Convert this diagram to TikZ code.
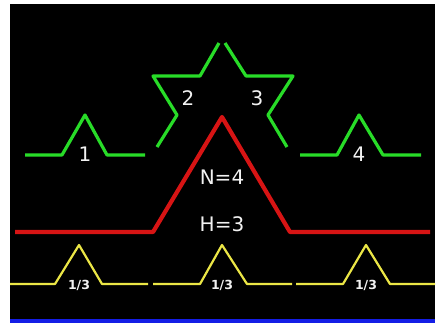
\documentclass[tikz,border=0pt]{standalone}
\usepackage{fontspec}
\setmainfont{DejaVu Sans}

\definecolor{kochgreen}{RGB}{40,220,40}
\definecolor{kochred}{RGB}{215,20,20}
\definecolor{kochyellow}{RGB}{235,230,70}
\definecolor{kochblue}{RGB}{20,30,230}

\begin{document}
\begin{tikzpicture}[x=1pt,y=-1pt,line join=round,
    green curve/.style={draw=kochgreen,line width=3.2pt},
    red curve/.style={draw=kochred,line width=4.2pt},
    yellow curve/.style={draw=kochyellow,line width=2.2pt},
    big label/.style={text=white!90!gray,font=\fontsize{20}{20}\selectfont},
    small label/.style={text=white!90!gray,font=\bfseries\fontsize{12.5}{12.5}\selectfont}]
  \useasboundingbox (0,0) rectangle (441,325);

  % Screen background and blue bar.
  \fill[black] (10,4) rectangle (435,319);
  \fill[kochblue] (10,319) rectangle (435,323);

  % Generator of height 1, scaled by three.
  \draw[red curve] (15,232) -- (153,232) -- (222,117) -- (290,232) -- (430,232);

  % Four copies of the generator at one third scale.
  \draw[green curve] (25,155) -- (62,155) -- (85,115) -- (107,155) -- (145,155);
  \draw[green curve] (157,147) -- (177,115) -- (153,76) -- (200,76) -- (219,43);
  \draw[green curve] (225,43) -- (246,76) -- (293,76) -- (268,115) -- (287,147);
  \draw[green curve] (300,155) -- (337,155) -- (359,115) -- (383,155) -- (421,155);

  % The three pieces of the unit generator.
  \draw[yellow curve] (10,284) -- (55,284) -- (79,245) -- (102,284) -- (148,284);
  \draw[yellow curve] (153,284) -- (200,284) -- (222,245) -- (247,284) -- (292,284);
  \draw[yellow curve] (296,284) -- (343,284) -- (366,245) -- (390,284) -- (435,284);

  % Labels.
  \node[big label] (one) at (85,154) {1};
  \node[big label] (two) at (188,98) {2};
  \node[big label] (three) at (257,98) {3};
  \node[big label] (four) at (359,154) {4};
  \node[big label] (count) at (222,177) {N=4};
  \node[big label] (ratio) at (222,224) {H=3};
  \node[small label] (thirdA) at (79,285) {1/3};
  \node[small label] (thirdB) at (222,285) {1/3};
  \node[small label] (thirdC) at (366,285) {1/3};
\end{tikzpicture}
\end{document}
